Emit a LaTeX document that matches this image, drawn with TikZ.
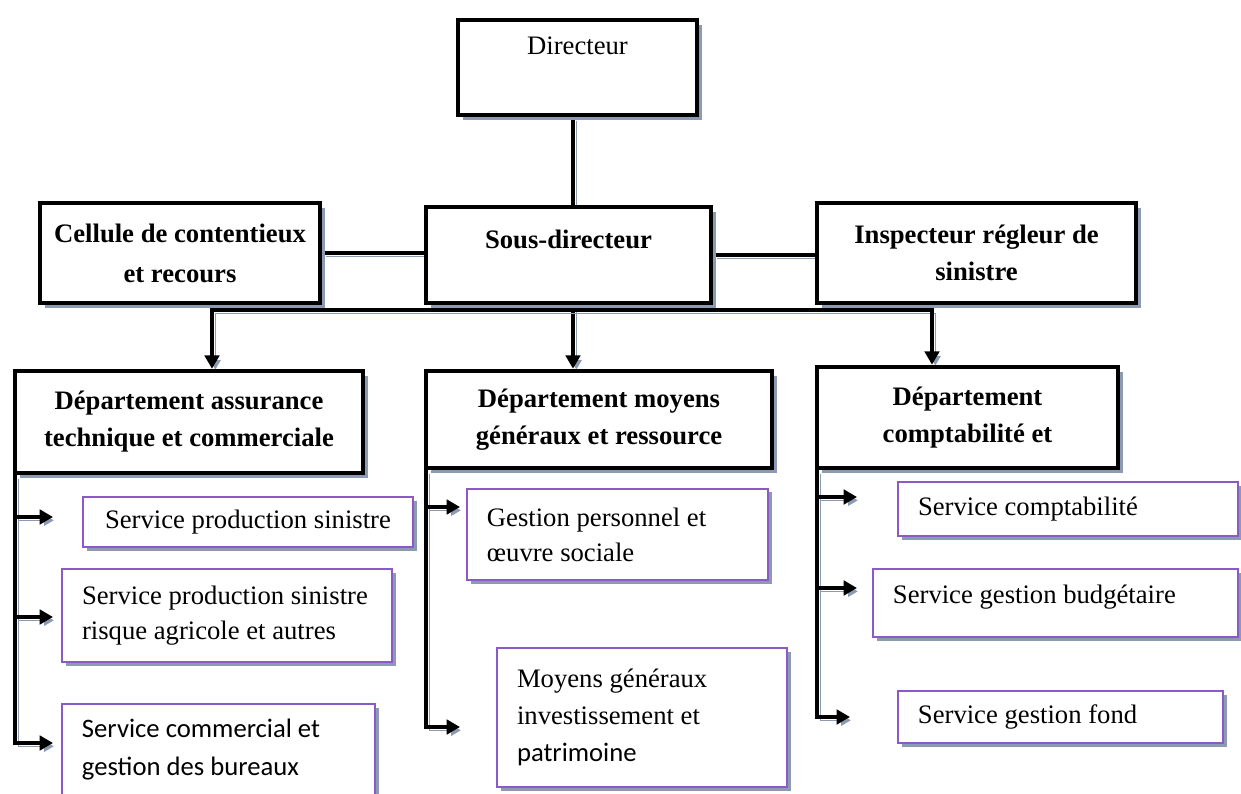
\documentclass[tikz,border=0pt]{standalone}
\usepackage{fontspec}
\setmainfont{Liberation Serif}
\newfontfamily\calibri{Carlito}
\usetikzlibrary{arrows.meta,shadows,backgrounds}
\definecolor{boxpurple}{RGB}{140,90,200}
\definecolor{shadowgrey}{RGB}{140,155,178}
\tikzset{bigbox/.style={draw, line width=2pt, fill=white, align=center, font=\bfseries\fontsize{12}{16.65}\selectfont,
    drop shadow={shadow xshift=2.4pt, shadow yshift=-2.4pt, fill=shadowgrey, opacity=1}}}
\tikzset{smallbox/.style={draw=boxpurple, line width=0.7pt, fill=white, align=flush left, inner xsep=9pt, font=\fontsize{12}{15.75}\selectfont,
    drop shadow={shadow xshift=1.6pt, shadow yshift=-1.6pt, fill=shadowgrey, opacity=1}}}
\tikzset{edge/.style={line width=1.5pt, preaction={draw=shadowgrey, transform canvas={shift={(1.5pt,-1.5pt)}}}}}
\tikzset{tip/.style={-{Triangle[length=6pt, width=6.5pt]}}}
\tikzset{aedge/.style={edge, tip}}

\begin{document}
\begin{tikzpicture}[x=0.45pt, y=-0.45pt]
        \useasboundingbox (0,0) rectangle (1241,794);

        % top of the chart
        \node[bigbox, font=\fontsize{12}{16}\selectfont, minimum width=107.6pt, minimum height=42.8pt, text depth=20pt] (Ndir) at (577.5,67.5) {Directeur};
        \node[bigbox, minimum width=128.3pt, minimum height=43.2pt, text depth=14pt] (Nsous) at (568.5,255) {Sous-directeur};
        \node[bigbox, font=\bfseries\fontsize{12}{18}\selectfont, minimum width=126pt, minimum height=45pt] (Ncell) at (180,253) {Cellule de contentieux\\et recours};
        \node[bigbox, minimum width=143.6pt, minimum height=45pt] (Ninsp) at (976.5,253) {Inspecteur régleur de\\sinistre};

        % departments
        \node[bigbox, minimum width=156.6pt, minimum height=45.9pt] (Nd1) at (189,422) {Département assurance\\technique et commerciale};
        \node[bigbox, minimum width=155.7pt, minimum height=43.7pt] (Nd2) at (599,419.5) {Département moyens\\généraux et ressource};
        \node[bigbox, minimum width=135.5pt, minimum height=45.5pt] (Nd3) at (967.5,417.5) {Département\\comptabilité et};

        % services
        \node[smallbox, align=center, minimum width=148.5pt, minimum height=22.5pt] (Ns1) at (248,522) {Service production sinistre};
        \node[smallbox, text width=130.5pt, minimum height=41.9pt] (Ns2) at (227,615.5) {Service production sinistre\\risque agricole et autres};
        \node[smallbox, font=\calibri\fontsize{12}{17.1}\selectfont, text width=122.9pt, minimum height=41.4pt] (Ns3) at (218.5,750) {Service commercial et\\gestion des bureaux};
        \node[smallbox, text width=117.5pt, minimum height=41pt] (Ns4) at (617.5,534.5) {Gestion personnel et\\œuvre sociale};
        \node[smallbox, font=\fontsize{12}{16.65}\selectfont, text width=112.5pt, minimum height=62.6pt] (Ns5) at (642,717.5) {Moyens généraux\\investissement et\\{\calibri patrimoine}};
        \node[smallbox, text width=135pt, minimum height=24.3pt] (Ns6) at (1068,509) {Service comptabilité};
        \node[smallbox, text width=146.3pt, minimum height=30.6pt, text depth=8pt] (Ns7) at (1055.5,603) {Service gestion budgétaire};
        \node[smallbox, text width=128.3pt, minimum height=23.4pt] (Ns8) at (1060.5,717) {Service gestion fond};

        \coordinate (trunk) at (573,310);
        \coordinate (b1) at (212,310);
        \coordinate (b3) at (932,310);
        \coordinate (sp1) at ([xshift=1pt]Nd1.south west);
        \coordinate (sp2) at ([xshift=1pt]Nd2.south west);
        \coordinate (sp3) at ([xshift=1pt]Nd3.south west);
        \coordinate (t11) at (53,517);
        \coordinate (t12) at (53,617);
        \coordinate (t13) at (53,743);
        \coordinate (t21) at (460,507);
        \coordinate (t22) at (460,727);
        \coordinate (t31) at (857,497);
        \coordinate (t32) at (857,588);
        \coordinate (t33) at (850,717);

        \begin{scope}[on background layer]
        \draw [edge] (Ndir.south -| trunk) -- (Nsous.north -| trunk);
        \draw [edge] (Ncell.east) -- (Ncell.east -| Nsous.west);
        \draw [edge] (Nsous.east) -- (Nsous.east -| Ninsp.west);
        \draw [aedge] (Nsous.south -| trunk) -- (Nd2.north -| trunk);
        \draw [edge, {Triangle[length=6pt, width=6.5pt]}-{Triangle[length=6pt, width=6.5pt]}] (Nd1.north -| b1) |- (b3) -- (Nd3.north -| b3);

        \draw [aedge] (sp1) |- (t13);
        \draw [aedge] (sp2) |- (t22);
        \draw [aedge] (sp3) |- (t33);
        \foreach \t in {t11,t12} \draw [aedge] (sp1 |- \t) -- (\t);
        \draw [aedge] (sp2 |- t21) -- (t21);
        \foreach \t in {t31,t32} \draw [aedge] (sp3 |- \t) -- (\t);
        \end{scope}
    \end{tikzpicture}
\end{document}
